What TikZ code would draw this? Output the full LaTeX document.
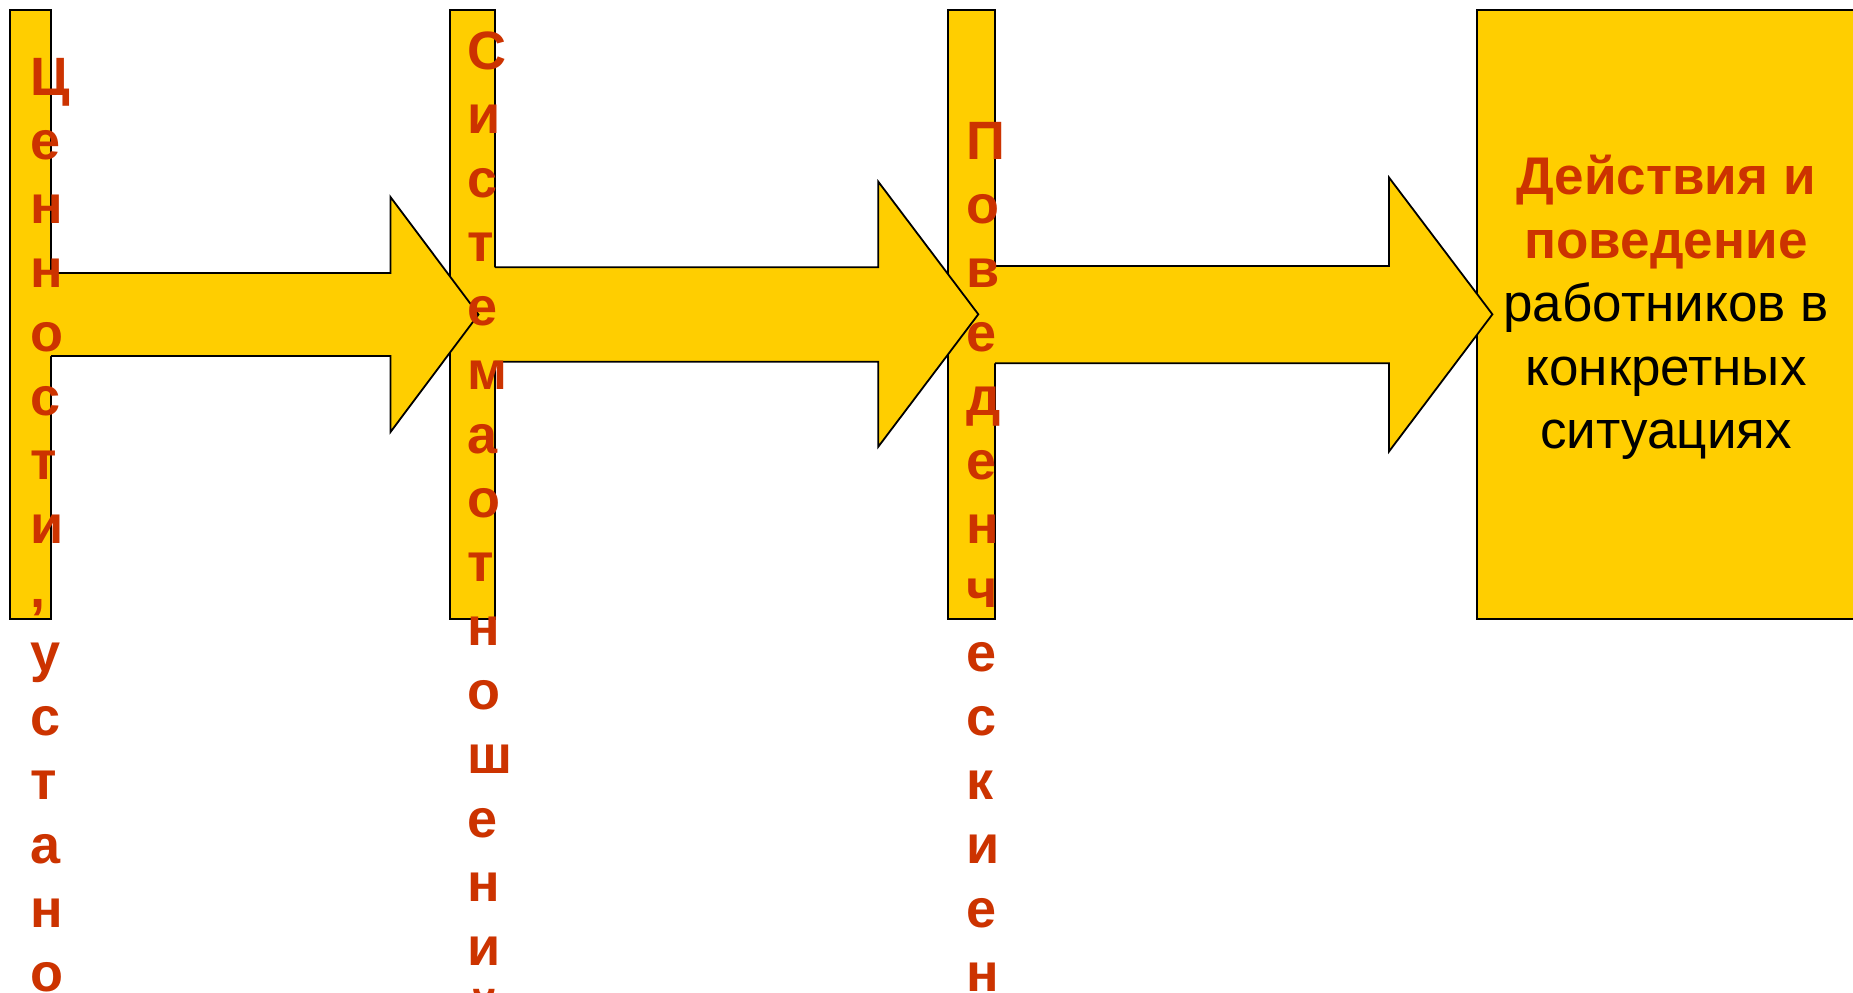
\documentclass[tikz,border=0pt]{standalone}
\usepackage{fontspec}
\setmainfont{Liberation Sans}
\definecolor{yel}{RGB}{255,206,0}
\definecolor{rd}{RGB}{204,51,0}
\tikzset{
  barbox/.style={fill=yel, draw=black, line width=0.9pt},
  arrowfill/.style={fill=yel},
  arrowline/.style={draw=black, line width=0.9pt, line join=miter},
  letter/.style={text=rd, font=\fontsize{27}{32}\selectfont\bfseries, inner sep=0pt, anchor=base west},
  redline/.style={text=rd, font=\fontsize{26.5}{31.75}\selectfont\bfseries, inner sep=0pt, anchor=base},
  blackline/.style={text=black, font=\fontsize{26.5}{31.75}\selectfont, inner sep=0pt, anchor=base},
}
\newcommand{\blockarr}[8]{%
  % #1 L, #2 shaft top, #3 shaft bottom, #4 head base x, #5 head top, #6 head bottom, #7 tip x, #8 tip y
  \fill[arrowfill] ({#1-1.5},#2) -- (#4,#2) -- (#4,#5) -- (#7,#8) -- (#4,#6) -- (#4,#3) -- ({#1-1.5},#3) -- cycle;
  \draw[arrowline] (#1,#2) -- (#4,#2) -- (#4,#5) -- (#7,#8) -- (#4,#6) -- (#4,#3) -- (#1,#3);
}
\begin{document}
\begin{tikzpicture}[x=0.5pt, y=-0.5pt]
\clip (0,0) rectangle (1853,992);
\fill[white] (0,0) rectangle (1853,992);
% bars and box
\draw[barbox] (10,10) rectangle (51,619);
\draw[barbox] (450,10) rectangle (495,619);
\draw[barbox] (948,10) rectangle (995,619);
\draw[barbox] (1477,10) rectangle (1880,619);
% block arrows
\blockarr{51}{273}{356}{390.5}{197}{432}{478.5}{314.5}
\blockarr{495}{267.3}{361.7}{878.3}{181.7}{446.7}{978.3}{314.3}
\blockarr{995}{266}{363.3}{1389}{177.5}{451.5}{1492.4}{314.3}
% vertical letters
\foreach \l [count=\i from 0] in {Ц,е,н,н,о,с,т,и,{,},у,с,т,а,н,о}
  \node[letter] (a\i) at (30,{95+64*\i}) {\l};
\foreach \l [count=\i from 0] in {С,и,с,т,е,м,а,о,т,н,о,ш,е,н,и,й}
  \node[letter] (b\i) at (467,{69+64*\i}) {\l};
\foreach \l [count=\i from 0] in {П,о,в,е,д,е,н,ч,е,с,к,и,е,н}
  \node[letter] (c\i) at (966.5,{159+64*\i}) {\l};
% box text
\node[redline] (t1) at (1666,194.3) {Действия и};
\node[redline] (t2) at (1666,258) {поведение};
\node[blackline] (t3) at (1666,321.5) {работников в};
\node[blackline] (t4) at (1666,385) {конкретных};
\node[blackline] (t5) at (1666,448.5) {ситуациях};
\end{tikzpicture}
\end{document}
